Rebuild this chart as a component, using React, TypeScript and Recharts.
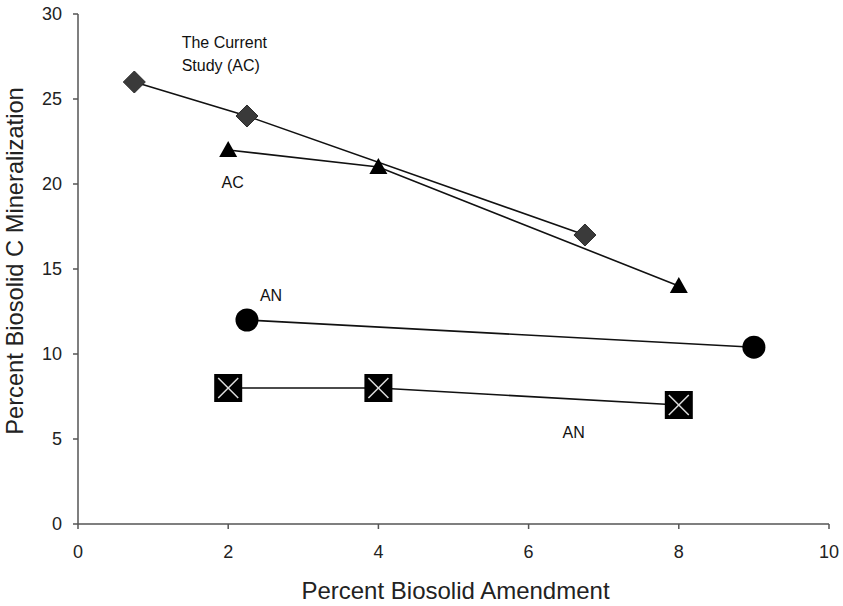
import React from "react";
import {
  ComposedChart,
  Line,
  XAxis,
  YAxis,
  ReferenceDot,
} from "recharts";

// Data (x = Percent Biosolid Amendment, y = Percent Biosolid C Mineralization)
const currentStudyX = [0.75, 2.25, 6.75];
const currentStudyY = [26, 24, 17];

const acX = [2, 4, 8];
const acY = [22, 21, 14];

const anCircleX = [2.25, 9];
const anCircleY = [12, 10.4];

const anSquareX = [2, 4, 8];
const anSquareY = [8, 8, 7];

const xTicks = [0, 2, 4, 6, 8, 10];
const yTicks = [0, 5, 10, 15, 20, 25, 30];

const annotations = [
  { x: 1.38, y: 28.35, text: "The Current", anchor: "start" },
  { x: 1.38, y: 27.0, text: "Study (AC)", anchor: "start" },
  { x: 2.06, y: 20.1, text: "AC", anchor: "middle" },
  { x: 2.57, y: 13.47, text: "AN", anchor: "middle" },
  { x: 6.6, y: 5.4, text: "AN", anchor: "middle" },
];

const toPoints = (xs: number[], ys: number[]) =>
  xs.map((x, i) => ({ x, y: ys[i] }));

const currentStudy = toPoints(currentStudyX, currentStudyY);
const ac = toPoints(acX, acY);
const anCircle = toPoints(anCircleX, anCircleY);
const anSquare = toPoints(anSquareX, anSquareY);

const LINE = "#111";
const FONT = "'Liberation Sans', Arial, Helvetica, sans-serif";

const DiamondDot = (props: any) => {
  const { cx, cy } = props;
  if (cx == null || cy == null) return null;
  const r = 11;
  return (
    <path
      d={`M${cx},${cy - r} L${cx + r},${cy} L${cx},${cy + r} L${cx - r},${cy} Z`}
      fill="#3a3a3a"
      stroke="#2a2a2a"
      strokeWidth={1}
    />
  );
};

const TriangleDot = (props: any) => {
  const { cx, cy } = props;
  if (cx == null || cy == null) return null;
  const w = 9;
  return (
    <path
      d={`M${cx},${cy - 9} L${cx + w},${cy + 7} L${cx - w},${cy + 7} Z`}
      fill="#000"
    />
  );
};

const CircleDot = (props: any) => {
  const { cx, cy } = props;
  if (cx == null || cy == null) return null;
  return <circle cx={cx} cy={cy} r={11.5} fill="#000" />;
};

const SquareXDot = (props: any) => {
  const { cx, cy } = props;
  if (cx == null || cy == null) return null;
  const h = 14;
  const k = 10;
  return (
    <g>
      <rect x={cx - h} y={cy - h} width={2 * h} height={2 * h} fill="#000" />
      <line x1={cx - k} y1={cy - k} x2={cx + k} y2={cy + k} stroke="#ddd" strokeWidth={1.5} />
      <line x1={cx - k} y1={cy + k} x2={cx + k} y2={cy - k} stroke="#ddd" strokeWidth={1.5} />
    </g>
  );
};

const AnnotationLabel = (props: any) => {
  const { viewBox, text, anchor } = props;
  if (!viewBox) return null;
  const x = viewBox.x + (viewBox.width || 0) / 2;
  const y = viewBox.y + (viewBox.height || 0) / 2;
  return (
    <text
      x={x}
      y={y}
      textAnchor={anchor}
      dominantBaseline="central"
      fontFamily={FONT}
      fontSize={16}
      fill="#111"
    >
      {text}
    </text>
  );
};

const YTitle = (props: any) => {
  const { viewBox } = props;
  const cy = viewBox.y + viewBox.height / 2 - 8;
  const cx = 15;
  return (
    <text
      x={cx}
      y={cy}
      transform={`rotate(-90, ${cx}, ${cy})`}
      textAnchor="middle"
      dominantBaseline="central"
      fontFamily={FONT}
      fontSize={23.7}
      fill="#222"
    >
      Percent Biosolid C Mineralization
    </text>
  );
};

const XTitle = (props: any) => {
  const { viewBox } = props;
  const cx = viewBox.x + viewBox.width / 2 + 2;
  return (
    <text
      x={cx}
      y={590}
      textAnchor="middle"
      dominantBaseline="central"
      fontFamily={FONT}
      fontSize={24}
      fill="#222"
    >
      Percent Biosolid Amendment
    </text>
  );
};

export default function App() {
  return (
    <div style={{ position: "absolute", left: 0, top: 0, width: 843, height: 606, background: "#fff" }}>
      <ComposedChart
        width={843}
        height={606}
        margin={{ top: 14, right: 14, left: 0, bottom: 0 }}
      >
        <XAxis
          type="number"
          dataKey="x"
          domain={[0, 10]}
          ticks={xTicks}
          allowDataOverflow
          height={82}
          tickSize={5}
          tickMargin={16}
          stroke="#555"
          strokeWidth={1.5}
          tick={{ fontSize: 18, fill: "#222", fontFamily: FONT }}
          tickLine={{ stroke: "#555" }}
          label={<XTitle />}
        />
        <YAxis
          type="number"
          dataKey="y"
          domain={[0, 30]}
          ticks={yTicks}
          allowDataOverflow
          width={78}
          tickSize={5}
          tickMargin={11}
          stroke="#555"
          strokeWidth={1.5}
          tick={{ fontSize: 18, fill: "#222", fontFamily: FONT }}
          tickLine={{ stroke: "#555" }}
          label={<YTitle />}
        />
        <Line
          data={currentStudy}
          dataKey="y"
          type="linear"
          stroke={LINE}
          strokeWidth={1.6}
          dot={<DiamondDot />}
          activeDot={false}
          isAnimationActive={false}
        />
        <Line
          data={ac}
          dataKey="y"
          type="linear"
          stroke={LINE}
          strokeWidth={1.6}
          dot={<TriangleDot />}
          activeDot={false}
          isAnimationActive={false}
        />
        <Line
          data={anCircle}
          dataKey="y"
          type="linear"
          stroke={LINE}
          strokeWidth={1.6}
          dot={<CircleDot />}
          activeDot={false}
          isAnimationActive={false}
        />
        <Line
          data={anSquare}
          dataKey="y"
          type="linear"
          stroke={LINE}
          strokeWidth={1.6}
          dot={<SquareXDot />}
          activeDot={false}
          isAnimationActive={false}
        />
        {annotations.map((a, i) => (
          <ReferenceDot
            key={i}
            x={a.x}
            y={a.y}
            r={0}
            fill="none"
            stroke="none"
            label={<AnnotationLabel text={a.text} anchor={a.anchor} />}
          />
        ))}
      </ComposedChart>
    </div>
  );
}
